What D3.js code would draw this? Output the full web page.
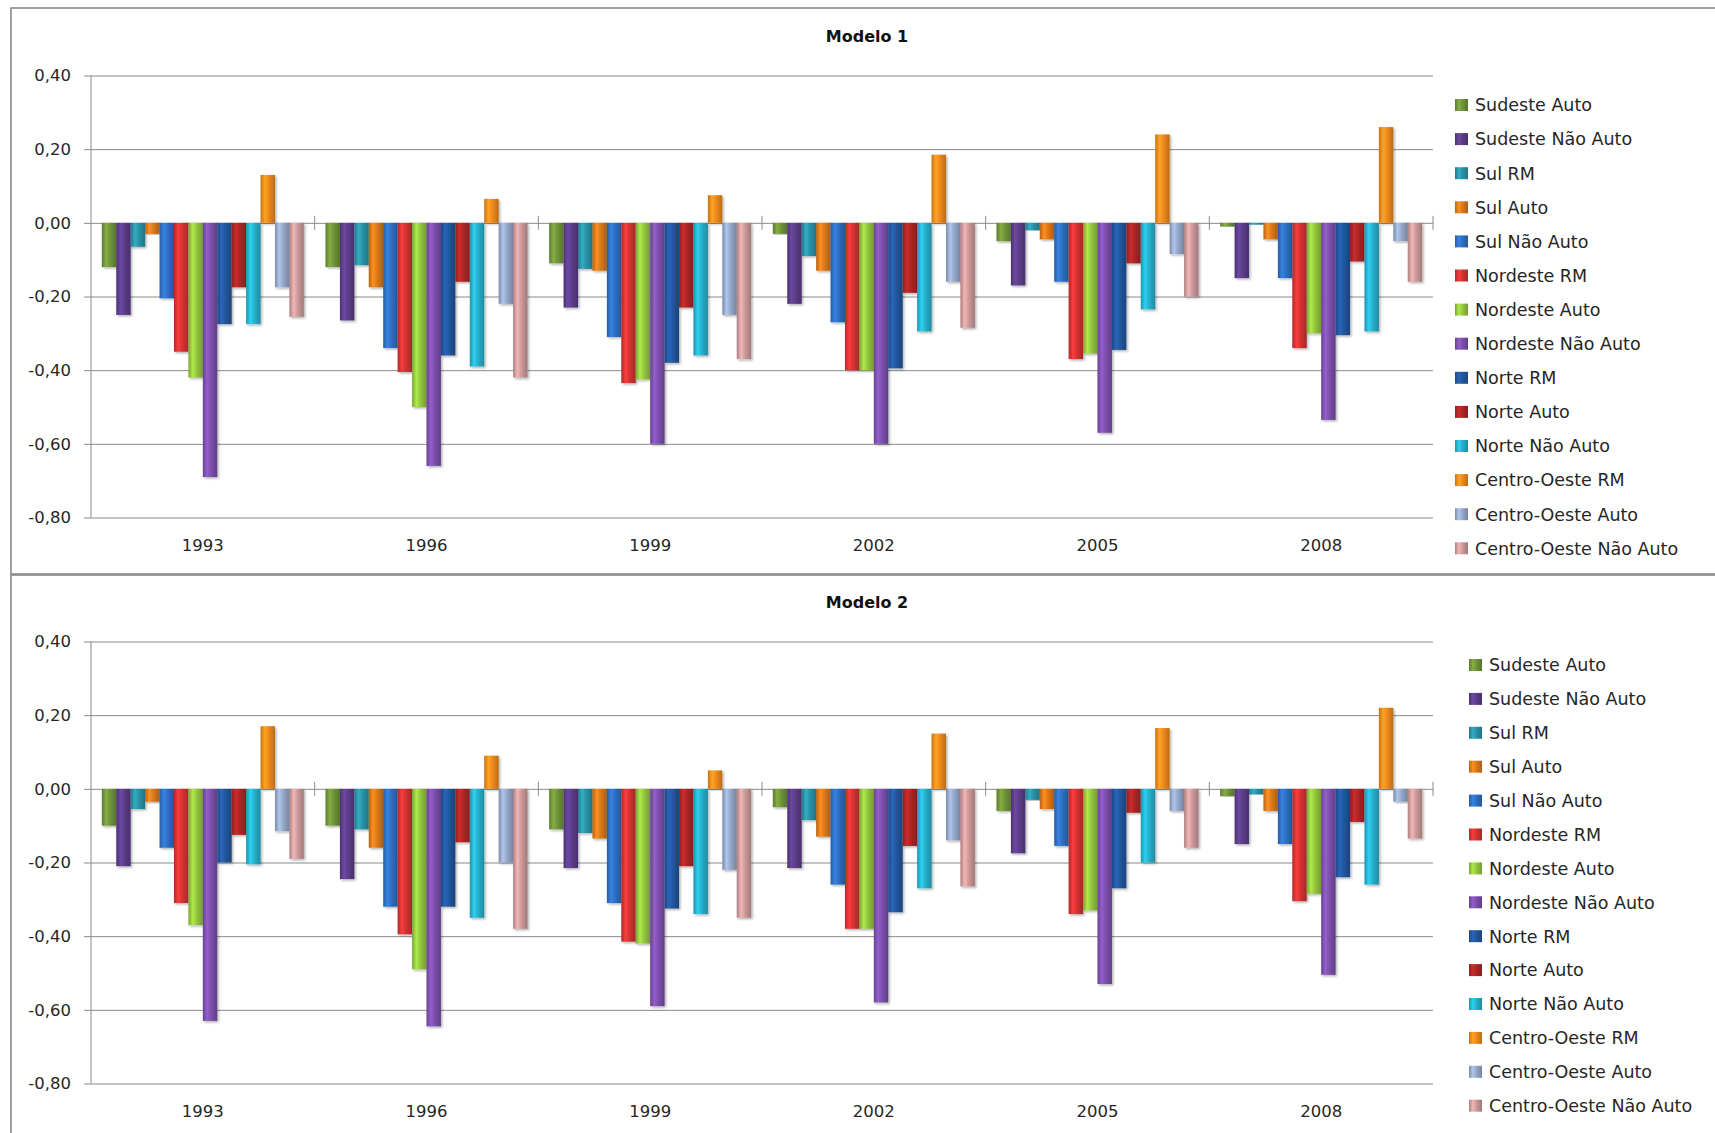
<!DOCTYPE html>
<html><head><meta charset="utf-8">
<script src="https://cdn.jsdelivr.net/npm/d3@7"></script>
<style>
body{margin:0;background:#fff}
svg{display:block}
text{font-family:"DejaVu Sans",sans-serif;fill:#262626}
</style>
</head><body>
<svg id="chart" width="1715" height="1133"></svg>
<script>
// ---- data ----
const years = ["1993", "1996", "1999", "2002", "2005", "2008"];
const seriesNames = ["Sudeste Auto", "Sudeste Não Auto", "Sul RM", "Sul Auto", "Sul Não Auto",
  "Nordeste RM", "Nordeste Auto", "Nordeste Não Auto", "Norte RM", "Norte Auto", "Norte Não Auto",
  "Centro-Oeste RM", "Centro-Oeste Auto", "Centro-Oeste Não Auto"];
const seriesColors = ["#71953a", "#5d3d8a", "#2a93a8", "#dc7a1c", "#2f70c2", "#d63333", "#95c83f",
  "#7d50ae", "#23579e", "#ad2626", "#27b2cf", "#f08b1d", "#97a9cb", "#cf9b9b"];
const yTickValues = [0.4, 0.2, 0, -0.2, -0.4, -0.6, -0.8];
const titles = ["Modelo 1", "Modelo 2"];

// values per year (rows) in the order of seriesNames
const modelo1 = [
  [-0.12, -0.25, -0.065, -0.03, -0.205, -0.35, -0.42, -0.69, -0.275, -0.175, -0.275, 0.13, -0.175, -0.255],
  [-0.12, -0.265, -0.115, -0.175, -0.34, -0.405, -0.50, -0.66, -0.36, -0.16, -0.39, 0.065, -0.22, -0.42],
  [-0.11, -0.23, -0.125, -0.13, -0.31, -0.435, -0.425, -0.60, -0.38, -0.23, -0.36, 0.075, -0.25, -0.37],
  [-0.03, -0.22, -0.09, -0.13, -0.27, -0.40, -0.40, -0.60, -0.395, -0.19, -0.295, 0.185, -0.16, -0.285],
  [-0.05, -0.17, -0.02, -0.045, -0.16, -0.37, -0.355, -0.57, -0.345, -0.11, -0.235, 0.24, -0.085, -0.20],
  [-0.01, -0.15, -0.005, -0.045, -0.15, -0.34, -0.30, -0.535, -0.305, -0.105, -0.295, 0.26, -0.05, -0.16]
];
const modelo2 = [
  [-0.10, -0.21, -0.055, -0.035, -0.16, -0.31, -0.37, -0.63, -0.20, -0.125, -0.205, 0.17, -0.115, -0.19],
  [-0.10, -0.245, -0.11, -0.16, -0.32, -0.395, -0.49, -0.645, -0.32, -0.145, -0.35, 0.09, -0.20, -0.38],
  [-0.11, -0.215, -0.12, -0.135, -0.31, -0.415, -0.42, -0.59, -0.325, -0.21, -0.34, 0.05, -0.22, -0.35],
  [-0.05, -0.215, -0.085, -0.13, -0.26, -0.38, -0.38, -0.58, -0.335, -0.155, -0.27, 0.15, -0.14, -0.265],
  [-0.06, -0.175, -0.03, -0.055, -0.155, -0.34, -0.33, -0.53, -0.27, -0.065, -0.20, 0.165, -0.06, -0.16],
  [-0.02, -0.15, -0.015, -0.06, -0.15, -0.305, -0.285, -0.505, -0.24, -0.09, -0.26, 0.22, -0.035, -0.135]
];

// ---- drawing ----
const svg = d3.select("#chart");
const locale = d3.formatLocale({decimal: ",", thousands: ".", grouping: [3], currency: ["R$", ""], minus: "-"});
const fmt = locale.format(".2f");

const defs = svg.append("defs");
seriesColors.forEach((c, i) => {
  const g = defs.append("linearGradient").attr("id", "g" + i)
    .attr("x1", 0).attr("x2", 1).attr("y1", 0).attr("y2", 0);
  const base = d3.color(c);
  g.append("stop").attr("offset", "0%").attr("stop-color", base.darker(0.55));
  g.append("stop").attr("offset", "30%").attr("stop-color", base.brighter(0.45));
  g.append("stop").attr("offset", "55%").attr("stop-color", base);
  g.append("stop").attr("offset", "100%").attr("stop-color", base.darker(0.7));
});
const sh = defs.append("filter").attr("id", "shadow").attr("x", "-20%").attr("y", "-5%")
  .attr("width", "150%").attr("height", "115%");
sh.append("feDropShadow").attr("dx", 1.5).attr("dy", 1.5).attr("stdDeviation", 1)
  .attr("flood-color", "#000").attr("flood-opacity", 0.3);

const panels = [
  {data: modelo1, off: 0, boxY: 8, boxH: 566, legX: 1455, legY: 105, legStep: 34.1},
  {data: modelo2, off: 566, boxY: 575, boxH: 600, legX: 1469, legY: 665, legStep: 33.9}
];

const plotL = 91, plotR = 1433;

panels.forEach((p, pi) => {
  const g = svg.append("g");
  g.append("rect").attr("x", 11).attr("y", p.boxY).attr("width", 1740).attr("height", p.boxH)
    .attr("fill", "#fff").attr("stroke", "#8a8a8a").attr("stroke-width", 1.6);

  const y = d3.scaleLinear().domain([-0.8, 0.4]).range([517.5 + p.off, 75.5 + p.off]);
  const x0 = d3.scaleBand().domain(years).range([plotL, plotR]).padding(0);
  const x1 = d3.scaleBand().domain(seriesNames).range([0, x0.bandwidth()])
    .paddingInner(0).paddingOuter(0.75);

  // title
  g.append("text").attr("x", 867).attr("y", 42 + p.off).attr("text-anchor", "middle")
    .style("font-weight", "bold").style("font-size", "16px").style("fill", "#111")
    .text(titles[pi]);

  // y axis with gridlines
  const ya = g.append("g").attr("transform", `translate(${plotL},0)`)
    .call(d3.axisLeft(y).tickValues(yTickValues).tickFormat(fmt).tickSize(7).tickPadding(13));
  ya.select(".domain").attr("stroke", "#8a8a8a").attr("d", `M-0,${y(0.4)}V${y(-0.8)}`);
  ya.selectAll(".tick line").attr("stroke", "#8a8a8a").attr("x2", plotR - plotL).attr("x1", -7);
  ya.selectAll(".tick text").style("font-size", "16.5px").style("font-family", "DejaVu Sans")
    .attr("fill", "#262626");

  // category labels at bottom
  const xa = g.append("g").attr("transform", `translate(0,${y(-0.8)})`)
    .call(d3.axisBottom(x0).tickSize(0).tickPadding(22));
  xa.select(".domain").remove();
  xa.selectAll(".tick text").style("font-size", "16.5px").style("font-family", "DejaVu Sans")
    .attr("fill", "#262626");

  // bars
  const groups = g.selectAll("g.yr").data(years).join("g").attr("class", "yr")
    .attr("transform", d => `translate(${x0(d)},0)`);
  groups.selectAll("rect").data((d, i) => p.data[i].map((v, s) => ({v, s})))
    .join("rect")
    .attr("x", d => x1(seriesNames[d.s]))
    .attr("width", x1.bandwidth())
    .attr("y", d => Math.min(y(d.v), y(0)))
    .attr("height", d => Math.abs(y(d.v) - y(0)))
    .attr("fill", d => `url(#g${d.s})`)
    .attr("filter", "url(#shadow)");

  // zero axis category separator ticks
  const seps = years.slice(1).map(d => x0(d)).concat([plotR]);
  g.selectAll("line.sep").data(seps).join("line").attr("class", "sep")
    .attr("x1", d => d).attr("x2", d => d)
    .attr("y1", y(0) - 7).attr("y2", y(0) + 7)
    .attr("stroke", "#8a8a8a");

  // legend
  const leg = g.append("g");
  const items = leg.selectAll("g").data(seriesNames).join("g")
    .attr("transform", (d, i) => `translate(${p.legX},${p.legY + i * p.legStep})`);
  items.append("rect").attr("x", 0).attr("y", -6).attr("width", 13).attr("height", 12)
    .attr("fill", (d, i) => `url(#g${i})`);
  items.append("text").attr("x", 20).attr("y", 0).attr("dy", "0.36em")
    .style("font-size", "17.5px").text(d => d);
});
</script>
</body></html>
